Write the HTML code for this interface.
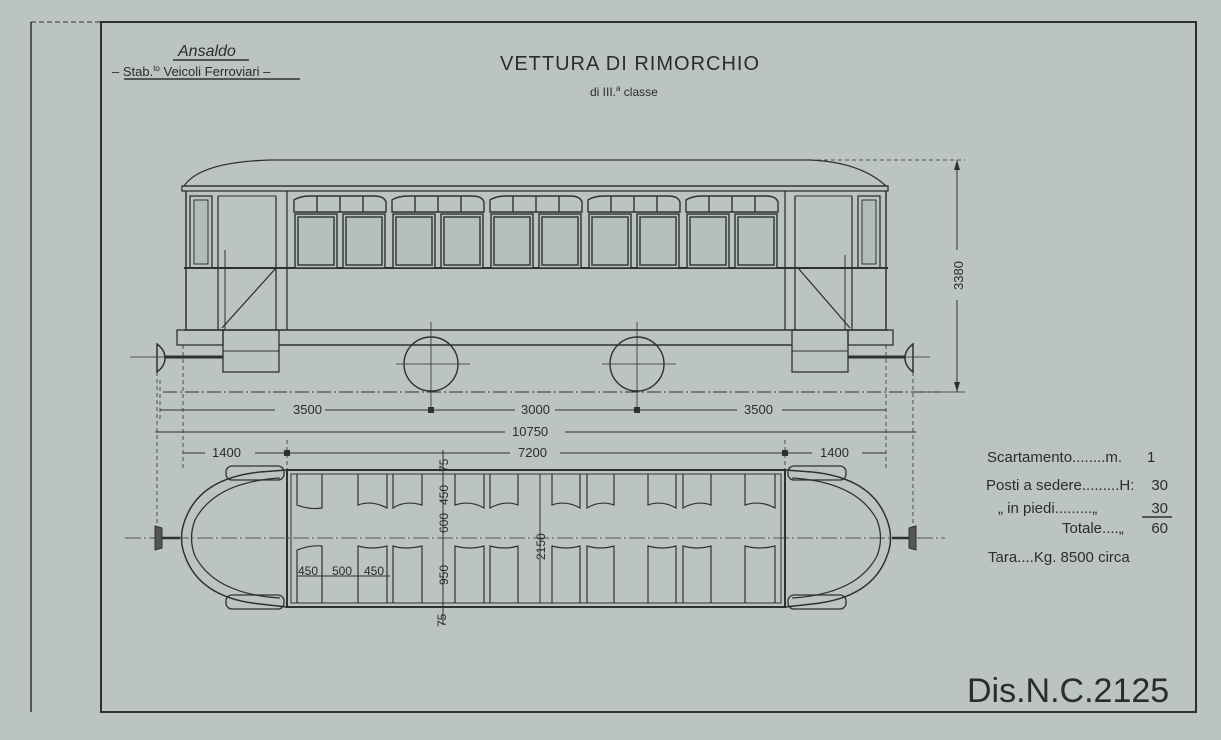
<!DOCTYPE html>
<html><head><meta charset="utf-8"><style>
html,body{margin:0;padding:0;background:#bcc4bf;}
svg{display:block;}
text{font-family:"Liberation Sans",sans-serif;fill:#2a2d2b;}
</style></head><body>
<svg width="1221" height="740" viewBox="0 0 1221 740" xmlns="http://www.w3.org/2000/svg">
<rect width="1221" height="740" fill="#bcc4bf"/>
<g stroke="#2e322f" fill="none">
<line x1="31" y1="22" x2="101" y2="22" stroke-dasharray="5,3"/>
<line x1="31" y1="22" x2="31" y2="712" stroke-width="1.5"/>
<rect x="101" y="22" width="1095" height="690" stroke-width="2"/>

<path d="M184,186 Q200,162 270,160 L810,160 Q860,162 886,186 Z" stroke-width="1.3"/>
<rect x="182" y="186" width="706" height="5" stroke-width="1.3"/>
<line x1="186" y1="191" x2="186" y2="330" stroke-width="1.5"/>
<line x1="886" y1="191" x2="886" y2="330" stroke-width="1.5"/>
<line x1="184" y1="268" x2="888" y2="268" stroke-width="2"/>
<line x1="287" y1="191" x2="287" y2="330" stroke-width="1.3"/>
<line x1="785" y1="191" x2="785" y2="330" stroke-width="1.3"/>
<line x1="184" y1="330" x2="888" y2="330" stroke-width="1.5"/>
<rect x="190" y="196" width="22" height="72" stroke-width="1.3"/>
<rect x="194" y="200" width="14" height="64" fill="#b2bdb8"/>
<line x1="218" y1="196" x2="218" y2="330" stroke-width="1.3"/>
<line x1="276" y1="196" x2="276" y2="330" stroke-width="1.3"/>
<line x1="218" y1="196" x2="276" y2="196"/>
<line x1="222" y1="328" x2="276" y2="268" stroke-width="1.3"/>
<line x1="225" y1="250" x2="225" y2="330"/>
<rect x="858" y="196" width="22" height="72" stroke-width="1.3"/>
<rect x="862" y="200" width="14" height="64" fill="#b2bdb8"/>
<line x1="795" y1="196" x2="795" y2="330" stroke-width="1.3"/>
<line x1="852" y1="196" x2="852" y2="330" stroke-width="1.3"/>
<line x1="795" y1="196" x2="852" y2="196"/>
<line x1="798" y1="268" x2="850" y2="328" stroke-width="1.3"/>
<line x1="845" y1="255" x2="845" y2="330"/>
<g stroke-width="1.4">
<g id="bay">
<path d="M294,212 L294,200 Q300,196 310,196 L374,196 Q384,196 386,202 L386,212 Z"/>
<line x1="317" y1="196" x2="317" y2="212"/><line x1="340" y1="196" x2="340" y2="212"/><line x1="363" y1="196" x2="363" y2="212"/>
<rect x="295" y="214" width="42" height="54" fill="#b5c0bb"/>
<rect x="343" y="214" width="42" height="54" fill="#b5c0bb"/>
<rect x="298" y="217" width="36" height="48"/>
<rect x="346" y="217" width="36" height="48"/>
</g>
<use href="#bay" x="98"/><use href="#bay" x="196"/><use href="#bay" x="294"/><use href="#bay" x="392"/>
</g>
<rect x="177" y="330" width="46" height="15" stroke-width="1.3"/>
<rect x="223" y="330" width="56" height="42" stroke-width="1.3"/>
<line x1="223" y1="351" x2="279" y2="351"/>
<line x1="279" y1="345" x2="792" y2="345" stroke-width="1.5"/>
<rect x="792" y="330" width="56" height="42" stroke-width="1.3"/>
<line x1="792" y1="351" x2="848" y2="351"/>
<rect x="848" y="330" width="45" height="15" stroke-width="1.3"/>
<line x1="165" y1="357" x2="223" y2="357" stroke-width="3"/>
<path d="M157,344 Q165,350 165,358 Q165,366 157,372 Z" stroke-width="1.5"/>
<line x1="848" y1="357" x2="905" y2="357" stroke-width="3"/>
<path d="M913,344 Q905,350 905,358 Q905,366 913,372 Z" stroke-width="1.5"/>
<circle cx="431" cy="364" r="27" stroke-width="1.4"/>
<circle cx="637" cy="364" r="27" stroke-width="1.4"/>
<line x1="431" y1="322" x2="431" y2="412" stroke-width="0.8"/>
<line x1="637" y1="322" x2="637" y2="412" stroke-width="0.8"/>
<line x1="396" y1="364" x2="470" y2="364" stroke-width="0.8"/>
<line x1="602" y1="364" x2="676" y2="364" stroke-width="0.8"/>
<line x1="163" y1="392" x2="940" y2="392" stroke-width="1" stroke-dasharray="14,3,2,3"/>
<line x1="130" y1="357" x2="190" y2="357" stroke-width="0.7"/>
<line x1="880" y1="357" x2="930" y2="357" stroke-width="0.7"/>
<line x1="810" y1="160" x2="965" y2="160" stroke-width="0.8" stroke-dasharray="4,3"/>
<line x1="957" y1="160" x2="957" y2="392" stroke-width="1"/>
<line x1="915" y1="392" x2="965" y2="392" stroke-width="0.8"/>
<g stroke-width="0.8" stroke-dasharray="4,3">
<line x1="157" y1="372" x2="157" y2="535"/>
<line x1="160" y1="380" x2="160" y2="420"/>
<line x1="183" y1="345" x2="183" y2="470"/>
<line x1="886" y1="345" x2="886" y2="470"/>
<line x1="913" y1="372" x2="913" y2="535"/>
<line x1="287" y1="440" x2="287" y2="470"/>
<line x1="785" y1="440" x2="785" y2="470"/>
</g>
<g stroke-width="1">
<line x1="160" y1="410" x2="886" y2="410"/>
<line x1="155" y1="432" x2="916" y2="432"/>
<line x1="183" y1="453" x2="886" y2="453"/>
</g>
</g>
<g fill="#2e322f">
<rect x="428" y="407" width="6" height="6"/><rect x="634" y="407" width="6" height="6"/>
<rect x="284" y="450" width="6" height="6"/><rect x="782" y="450" width="6" height="6"/>
<polygon points="957,160 954,170 960,170"/><polygon points="957,392 954,382 960,382"/>
</g>
<rect x="275" y="402" width="50" height="14" fill="#bcc4bf"/>
<rect x="515" y="402" width="40" height="14" fill="#bcc4bf"/>
<rect x="737" y="402" width="45" height="14" fill="#bcc4bf"/>
<rect x="505" y="424" width="60" height="14" fill="#bcc4bf"/>
<rect x="205" y="445" width="50" height="14" fill="#bcc4bf"/>
<rect x="510" y="445" width="50" height="14" fill="#bcc4bf"/>
<rect x="812" y="445" width="50" height="14" fill="#bcc4bf"/>
<rect x="945" y="250" width="24" height="50" fill="#bcc4bf"/>
<g font-size="13">
<text x="293" y="414">3500</text><text x="521" y="414">3000</text><text x="744" y="414">3500</text>
<text x="512" y="436">10750</text>
<text x="212" y="457">1400</text><text x="518" y="457">7200</text><text x="820" y="457">1400</text>
<text transform="translate(963,290) rotate(-90)" font-size="13">3380</text>
</g>

<g stroke="#2e322f" fill="none">
<line x1="125" y1="538" x2="945" y2="538" stroke-width="0.8" stroke-dasharray="16,3,2,3"/>
<rect x="287" y="470" width="498" height="137" stroke-width="2"/>
<rect x="291" y="474" width="490" height="129" stroke-width="1"/>
<path d="M287,470 L260,472 Q200,478 185,520 Q178,538 185,556 Q200,598 260,604 L287,607" stroke-width="1.5"/>
<path d="M280,478 Q215,482 195,520 Q188,538 195,556 Q215,594 280,598" stroke-width="1.3"/>
<path d="M785,470 L812,472 Q872,478 887,520 Q894,538 887,556 Q872,598 812,604 L785,607" stroke-width="1.5"/>
<path d="M792,478 Q857,482 877,520 Q884,538 877,556 Q857,594 792,598" stroke-width="1.3"/>
<rect x="226" y="466" width="58" height="14" rx="6" stroke-width="1.3"/>
<rect x="226" y="595" width="58" height="14" rx="6" stroke-width="1.3"/>
<rect x="788" y="466" width="58" height="14" rx="6" stroke-width="1.3"/>
<rect x="788" y="595" width="58" height="14" rx="6" stroke-width="1.3"/>
<path d="M155,526 L162,528 L162,548 L155,550 Z" fill="#555" stroke-width="1"/>
<line x1="162" y1="538" x2="180" y2="538" stroke-width="2.5"/>
<path d="M916,526 L909,528 L909,548 L916,550 Z" fill="#555" stroke-width="1"/>
<line x1="892" y1="538" x2="909" y2="538" stroke-width="2.5"/>
<g stroke-width="1.2">
<path d="M297,474 L297,505 Q310,510 322,508 L322,474"/>
<path d="M297,603 L297,550 Q310,545 322,546 L322,603"/>
<path d="M358,474 L358,505 Q372,500 387,508 L387,474 M393,474 L393,508 Q405,500 422,505 L422,474"/>
<path d="M358,603 L358,546 Q372,550 387,546 L387,603 M393,603 L393,546 Q405,550 422,546 L422,603"/>
<path d="M455,474 L455,505 Q470,500 484,508 L484,474 M490,474 L490,508 Q505,500 518,505 L518,474"/>
<path d="M455,603 L455,546 Q470,550 484,546 L484,603 M490,603 L490,546 Q505,550 518,546 L518,603"/>
<path d="M552,474 L552,505 Q566,500 580,508 L580,474 M587,474 L587,508 Q600,500 614,505 L614,474"/>
<path d="M552,603 L552,546 Q566,550 580,546 L580,603 M587,603 L587,546 Q600,550 614,546 L614,603"/>
<path d="M648,474 L648,505 Q662,500 676,508 L676,474 M683,474 L683,508 Q697,500 711,505 L711,474"/>
<path d="M648,603 L648,546 Q662,550 676,546 L676,603 M683,603 L683,546 Q697,550 711,546 L711,603"/>
<path d="M745,474 L745,505 Q760,500 775,508 L775,474"/>
<path d="M745,603 L745,546 Q760,550 775,546 L775,603"/>
</g>
<line x1="443" y1="450" x2="443" y2="625" stroke-width="1"/>
<line x1="540" y1="474" x2="540" y2="603" stroke-width="1"/>
<line x1="297" y1="576" x2="390" y2="576" stroke-width="1"/>
</g>
<g font-size="12">
<text x="298" y="575">450</text><text x="332" y="575">500</text><text x="364" y="575">450</text>
<text transform="translate(448,472) rotate(-90)">75</text>
<text transform="translate(448,505) rotate(-90)">450</text>
<text transform="translate(448,533) rotate(-90)">600</text>
<text transform="translate(448,585) rotate(-90)">950</text>
<text transform="translate(446,627) rotate(-90)">75</text>
<text transform="translate(545,560) rotate(-90)">2150</text>
</g>

<text x="178" y="56" font-size="16" font-style="italic">Ansaldo</text>
<line x1="173" y1="60" x2="249" y2="60" stroke="#2e322f" stroke-width="1.5"/>
<text x="112" y="76" font-size="13">– Stab.<tspan font-size="8" dy="-5">to</tspan><tspan dy="5"> Veicoli Ferroviari –</tspan></text>
<line x1="124" y1="79" x2="300" y2="79" stroke="#2e322f" stroke-width="1.5"/>
<text x="500" y="70" font-size="20" letter-spacing="1">VETTURA DI RIMORCHIO</text>
<text x="590" y="96" font-size="12">di III.<tspan font-size="8" dy="-5">a</tspan><tspan dy="5"> classe</tspan></text>

<g font-size="15">
<text x="987" y="462">Scartamento........m.</text><text x="1147" y="462">1</text>
<text x="986" y="490">Posti a sedere.........H:</text><text x="1168" y="490" text-anchor="end">30</text>
<text x="998" y="513">„  in piedi.........„</text><text x="1168" y="513" text-anchor="end">30</text>
<line x1="1142" y1="517" x2="1172" y2="517" stroke="#2e322f" stroke-width="1.5"/>
<text x="1062" y="533">Totale....„</text><text x="1168" y="533" text-anchor="end">60</text>
<text x="988" y="562">Tara....Kg. 8500  circa</text>
</g>
<text x="967" y="702" font-size="34">Dis.N.C.2125</text>
</svg>
</body></html>
